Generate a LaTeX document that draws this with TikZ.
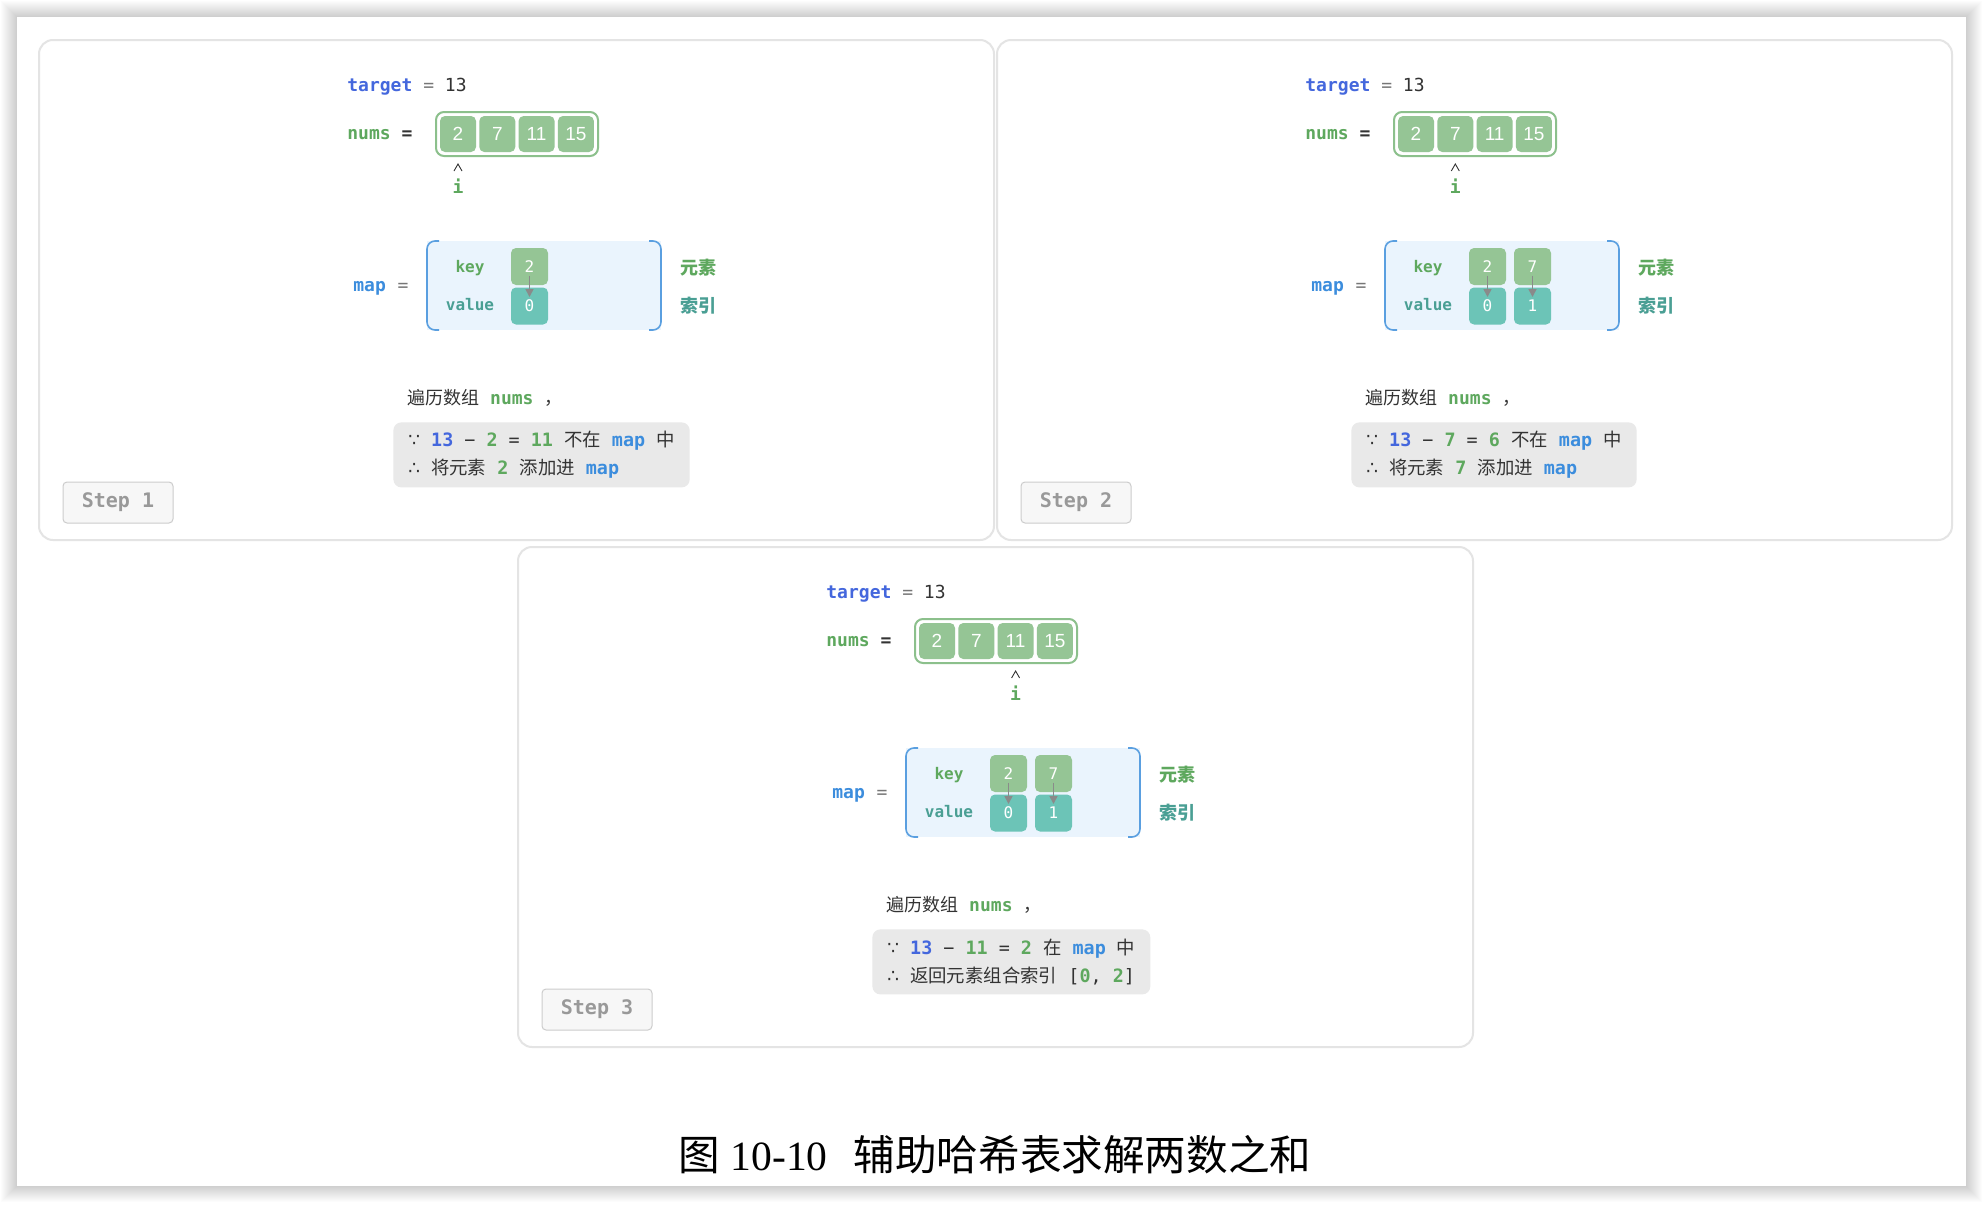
\documentclass[tikz,border=0pt]{standalone}
\usepackage{fontspec}
\setmainfont{Liberation Serif}
\setsansfont{Liberation Sans}
\setmonofont{DejaVu Sans Mono}
\newfontfamily\cjk{Noto Sans CJK SC}
\newfontfamily\symfont{DejaVu Sans}
\usepackage{tikz}
\usetikzlibrary{arrows.meta,calc}
\definecolor{tgtblue}{HTML}{4467DD}
\definecolor{mapblue}{HTML}{3C8DDD}
\definecolor{codegreen}{HTML}{5EA85E}
\definecolor{codeteal}{HTML}{4A9F94}
\definecolor{cellgreen}{HTML}{95C595}
\definecolor{cellteal}{HTML}{6CC4B7}
\definecolor{arrgreen}{HTML}{8CC08C}
\definecolor{mapbg}{HTML}{EAF4FD}
\definecolor{mapline}{HTML}{5A9FE0}
\definecolor{notegray}{HTML}{E9E9E9}
\definecolor{textdark}{HTML}{333333}
\definecolor{eqgray}{HTML}{777777}
\definecolor{framegray}{HTML}{E4E4E4}
\definecolor{arrowgray}{HTML}{8A8A8A}
\newcommand{\zh}[1]{{\cjk #1}}
\newcommand{\hlb}[1]{\textcolor{tgtblue}{\bfseries #1}}
\newcommand{\hlg}[1]{\textcolor{codegreen}{\bfseries #1}}
\newcommand{\hlm}[1]{\textcolor{mapblue}{\bfseries #1}}
\newcommand{\since}{{\symfont ∵}}
\newcommand{\hence}{{\symfont ∴}}
\tikzset{panelbox/.style={
    draw=framegray,
    line width=1pt,
    fill=white,
    rounded corners=7pt}}
\tikzset{code/.style={
    inner sep=0pt,
    font=\ttfamily\bfseries\fontsize{9}{11}\selectfont}}
\tikzset{plain/.style={
    inner sep=0pt,
    text=textdark,
    font=\ttfamily\fontsize{9}{11}\selectfont}}
\tikzset{lbl/.style={
    inner sep=0pt,
    font=\ttfamily\bfseries\fontsize{8}{10}\selectfont}}
\tikzset{zhlbl/.style={
    inner sep=0pt,
    font=\cjk\bfseries\fontsize{9}{11}\selectfont}}
\tikzset{arraybox/.style={
    draw=arrgreen,
    line width=1pt,
    fill=white,
    rounded corners=4pt,
    minimum width=81pt,
    minimum height=22pt}}
\tikzset{numcell/.style={
    fill=cellgreen,
    rounded corners=2.5pt,
    minimum size=18pt,
    inner sep=0pt,
    text=white,
    font=\sffamily\fontsize{9.5}{10}\selectfont}}
\tikzset{keycell/.style={
    fill=cellgreen,
    rounded corners=2.5pt,
    minimum size=18.5pt,
    inner sep=0pt,
    text=white,
    font=\ttfamily\fontsize{8}{9}\selectfont}}
\tikzset{valcell/.style={
    keycell,
    fill=cellteal}}
\tikzset{bracket/.style={
    draw=mapline,
    line width=0.8pt,
    rounded corners=4pt}}
\tikzset{maparrow/.style={
    draw=arrowgray,
    line width=0.8pt,
    shorten <=4.5pt,
    shorten >=4.5pt,
    -{Triangle[length=4pt,width=4pt]}}}
\tikzset{ptrline/.style={
    draw=textdark,
    line width=0.45pt}}
\tikzset{notebox/.style={
    anchor=north west,
    fill=notegray,
    rounded corners=4pt,
    align=left,
    inner xsep=7.5pt,
    inner ysep=0pt,
    minimum height=32.5pt,
    text=textdark,
    font=\ttfamily\fontsize{9.2}{14}\selectfont}}
\tikzset{stepbox/.style={
    draw=black!20,
    line width=0.5pt,
    fill=black!3,
    rounded corners=2pt,
    minimum width=55pt,
    minimum height=20.5pt,
    text=black!40,
    font=\ttfamily\bfseries\fontsize{10}{12}\selectfont}}

% common part of one step, #2 is also the index of i
\newcommand{\steppanel}[2]{%
  \path[panelbox] (39,40) rectangle (994,540);
  \node[code, anchor=base west] (tgt#1) at (347,91)
    {\textcolor{tgtblue}{target} \textcolor{eqgray}{\mdseries=} \textcolor{textdark}{\mdseries 13}};
  \node[code, anchor=base west, text=codegreen] (nums#1) at (347,139)
    {nums \textcolor{textdark}{=}};
  \node[arraybox] (arr#1) at (517,134) {};
  \foreach \v [count=\k] in {2,7,11,15}
    \node[numcell] (n#1-\k) at ({458+39.3*(\k-1)},134) {\v};
  \coordinate (ptr#1) at ({458+39.3*(#2-1)},164);
  \draw[ptrline] ($(ptr#1)+(-4,7)$) -- (ptr#1) -- ($(ptr#1)+(4,7)$);
  \node[code, anchor=base, text=codegreen] (i#1) at ($(ptr#1)+(0,29)$) {i};
  \node[code, anchor=base west, text=mapblue] (map#1) at (353,291) {map};
  \node[plain, anchor=base, text=eqgray] (meq#1) at (403,291) {=};
  \fill[mapbg] (427,241) rectangle (661,330);
  \draw[bracket] (439,241) -- (427,241) -- (427,330) -- (439,330);
  \draw[bracket] (649,241) -- (661,241) -- (661,330) -- (649,330);
  \node[lbl, anchor=base, text=codegreen] (key#1) at (470,272) {key};
  \node[lbl, anchor=base, text=codeteal] (val#1) at (470,310) {value};
  \node[zhlbl, text=codegreen] (el#1) at (698,268) {元素};
  \node[zhlbl, text=codeteal] (ix#1) at (698,306) {索引};
  \node[plain, anchor=west] (walk#1) at (407,398) {\zh{遍历数组} \hlg{nums} \zh{，}};
  \node[stepbox] (s#1) at (118,502.5) {Step #2};
}

\begin{document}
\begin{tikzpicture}[x=0.5pt,y=-0.5pt]
\useasboundingbox (0,0) rectangle (1983,1205);
\fill[white] (0,0) rectangle (1983,1205);
\foreach \k in {1,...,16}
  \fill[black, opacity=0.011] ({17-\k},{17-\k}) rectangle ({1966+\k},{1186+\k});
\fill[white] (17,17) rectangle (1966,1186);

% step 1
\steppanel{1}{1}
\node[keycell] (k1-1) at (529.5,266.5) {2};
\node[valcell] (v1-1) at (529.5,306) {0};
\draw[maparrow] (k1-1.center) -- (v1-1.center);
\node[notebox] (note1) at (393,422)
  {\since{} \hlb{13} − \hlg{2} = \hlg{11} \zh{不在} \hlm{map} \zh{中}\\
   \hence{} \zh{将元素} \hlg{2} \zh{添加进} \hlm{map}};

% step 2
\begin{scope}[shift={(958,0)}]
\steppanel{2}{2}
\node[keycell] (k2-1) at (529.5,266.5) {2};
\node[valcell] (v2-1) at (529.5,306) {0};
\node[keycell] (k2-2) at (574.5,266.5) {7};
\node[valcell] (v2-2) at (574.5,306) {1};
\draw[maparrow] (k2-1.center) -- (v2-1.center);
\draw[maparrow] (k2-2.center) -- (v2-2.center);
\node[notebox] (note2) at (393,422)
  {\since{} \hlb{13} − \hlg{7} = \hlg{6} \zh{不在} \hlm{map} \zh{中}\\
   \hence{} \zh{将元素} \hlg{7} \zh{添加进} \hlm{map}};
\end{scope}

% step 3
\begin{scope}[shift={(479,507)}]
\steppanel{3}{3}
\node[keycell] (k3-1) at (529.5,266.5) {2};
\node[valcell] (v3-1) at (529.5,306) {0};
\node[keycell] (k3-2) at (574.5,266.5) {7};
\node[valcell] (v3-2) at (574.5,306) {1};
\draw[maparrow] (k3-1.center) -- (v3-1.center);
\draw[maparrow] (k3-2.center) -- (v3-2.center);
\node[notebox] (note3) at (393,422)
  {\since{} \hlb{13} − \hlg{11} = \hlg{2} \zh{在} \hlm{map} \zh{中}\\
   \hence{} \zh{返回元素组合索引} [\hlg{0}, \hlg{2}]};
\end{scope}

\node[font=\fontsize{20.8}{25}\selectfont] (cap) at (995,1155)
  {\zh{图}~10-10\hspace{13pt}\zh{辅助哈希表求解两数之和}};
\end{tikzpicture}
\end{document}
